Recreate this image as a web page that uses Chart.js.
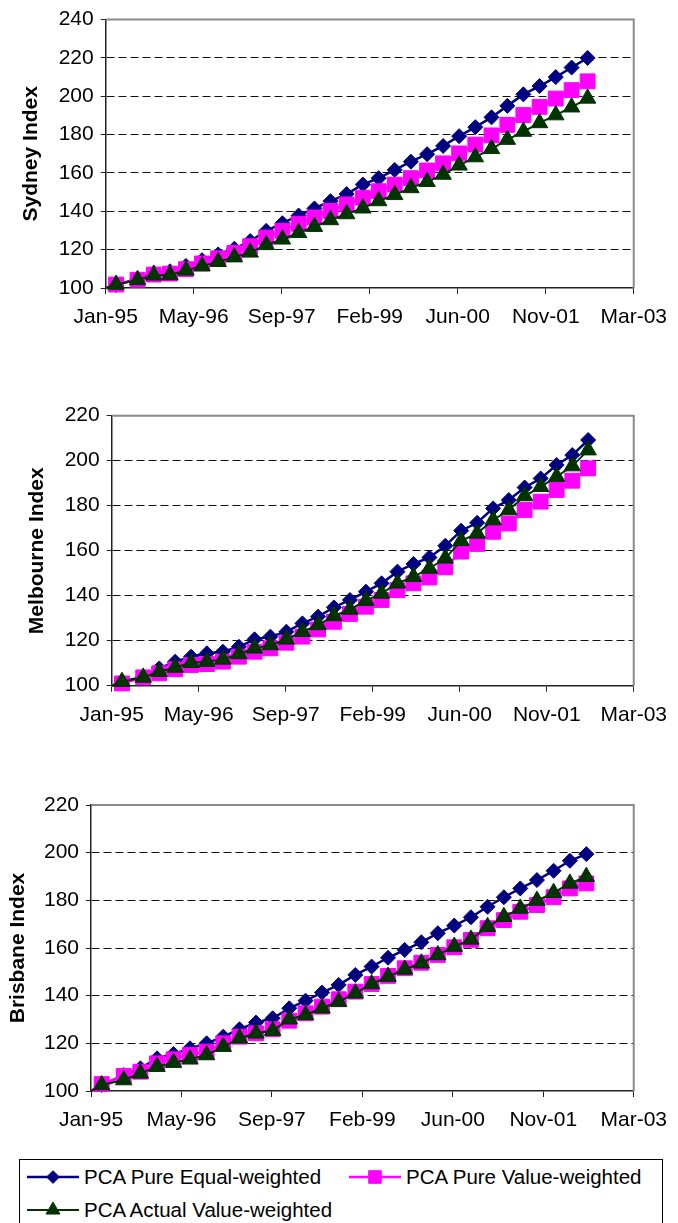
<!DOCTYPE html>
<html>
<head>
<meta charset="utf-8">
<script src="https://cdn.jsdelivr.net/npm/chart.js@4.4.0/dist/chart.umd.min.js"></script>
<style>
  html, body { margin: 0; padding: 0; background: #fff; overflow: hidden; }
  body { width: 678px; height: 1223px; position: relative; font-family: "Liberation Sans", Arial, sans-serif; }
  canvas { position: absolute; left: 0; }
  #legend { position: absolute; left: 19px; top: 1159px; width: 644px; height: 90px; border: 1px solid #000; box-sizing: border-box; }
  .item { position: absolute; font-size: 20.5px; color: #000; white-space: nowrap; line-height: 24px; }
  .item canvas { position: absolute; }
</style>
</head>
<body>
<canvas id="sydney" width="678" height="340"></canvas>
<canvas id="melbourne" width="678" height="345"></canvas>
<canvas id="brisbane" width="678" height="360"></canvas>
<div id="legend"></div>
<script>
// quarterly observations (first one is the Jan-95 base)
const quarterDates = ['1995-01', '1995-03', '1995-07', '1995-10', '1996-01', '1996-04', '1996-07', '1996-10',
    '1997-01', '1997-04', '1997-07', '1997-10', '1998-01', '1998-04', '1998-07', '1998-10',
    '1999-01', '1999-04', '1999-07', '1999-10', '2000-01', '2000-04', '2000-07', '2000-10',
    '2001-01', '2001-04', '2001-07', '2001-10', '2002-01', '2002-04', '2002-07'];

const xTickLabels = ['Jan-95', 'May-96', 'Sep-97', 'Feb-99', 'Jun-00', 'Nov-01', 'Mar-03'];
const seriesNames = ['PCA Pure Equal-weighted', 'PCA Pure Value-weighted', 'PCA Actual Value-weighted'];

const sydneyEqual = [100, 101.5, 105, 108, 108.7, 111.5, 114.5, 117.5, 120.5, 124.5, 129.8, 133.8, 137.8, 141.5, 145.3, 149,
    154, 157.3, 161.6, 165.9, 169.8, 174.1, 179.2, 183.9, 189, 195, 201, 205.3, 210, 215, 220];
const sydneyPureValue = [100, 101.8, 104.3, 107, 107.5, 109.8, 112.8, 115.5, 118.3, 121.8, 126.3, 129.8, 133.5, 136.8, 140.2, 143.6,
    147.1, 150.5, 153.9, 157.3, 161.3, 165, 170.2, 174.8, 179.6, 185.1, 190.2, 194.5, 198.8, 203.2, 207.8];
const sydneyActualValue = [100, 101.8, 104.2, 106.6, 106.8, 109.2, 111.4, 113.7, 116.1, 118.6, 122.5, 125.4, 128.8, 132, 135.5, 138.6,
    141.6, 145.4, 148.6, 152.2, 155.4, 159.2, 164, 168.3, 172.6, 177.4, 181.6, 186.1, 190.2, 194.3, 198.9];

const melbourneEqual = [100, 101.8, 104, 107.7, 110.7, 112.9, 114.4, 115.1, 117.3, 120.6, 121.8, 124, 127.7, 130.7, 134.8, 138.1,
    141.8, 145.5, 150.7, 154.1, 157, 162.2, 168.9, 172.4, 178.8, 182.5, 188.1, 192.1, 198.1, 202.5, 209.2];
const melbournePureValue = [100, 101, 103.7, 105.5, 107.3, 109.2, 109.6, 110.7, 112.9, 115.1, 116.6, 119.1, 121.8, 125, 128.4, 131.9,
    135.1, 138.1, 142.5, 145.5, 148.1, 152.6, 159.6, 163, 168.4, 172.1, 178.1, 181.8, 187, 191.1, 196.6];
const melbourneActualValue = [100, 101.8, 103.7, 106.2, 108.1, 110.2, 110.7, 111.7, 114.1, 116.6, 118.1, 120.6, 124, 127, 131, 133.9,
    137.8, 141, 145.5, 148.4, 152.1, 156.6, 164.4, 167.7, 173.6, 178.1, 184.3, 188.4, 192.9, 197.6, 204.7];

const brisbaneEqual = [100, 102.5, 106.7, 109.5, 113.7, 115.5, 117.9, 120, 122.8, 125.9, 128.7, 130.5, 134.7, 137.9, 141.3, 144.5,
    148.7, 152.2, 155.9, 159.2, 162.4, 166.2, 169.4, 172.9, 177.3, 181.3, 185, 188.5, 192.4, 196.6, 199.4];
const brisbanePureValue = [100, 102.9, 106.3, 108.1, 111.6, 113.3, 115.1, 116.5, 120, 122.8, 124.2, 125.9, 129.5, 132.6, 135.4, 138.5,
    141.7, 144.9, 148.3, 151.5, 153.8, 157.1, 160.3, 163.4, 168.3, 171.7, 175.2, 178, 181.3, 185, 187.1];
const brisbaneActualValue = [100, 102.5, 104.6, 107.4, 110.2, 111.9, 113.3, 115.1, 118.6, 122.1, 124.2, 125.3, 130.1, 131.9, 134.7, 137.5,
    141, 144.9, 148, 151, 153.6, 157.1, 160.6, 163.6, 168.9, 173.1, 176.6, 179.9, 183.2, 187.1, 189.9];

// days since 1 Jan 1995 (the axis runs on a 500-day step like the excel date axis)
const dayOf = s => {
    const [y, m] = s.split('-').map(Number);
    return (Date.UTC(y, m - 1, 1) - Date.UTC(1995, 0, 1)) / 86400000;
};
const days = quarterDates.map(dayOf);

const styles = [
    { color: '#000080', style: 'rectRot', radius: 7.5, line: 2.5, order: 3 },
    { color: '#ff00ff', style: 'rect', radius: 10.5, line: 2.5, order: 2 },
    { color: '#003300', style: 'triangle', radius: 9.5, line: 2, order: 1 }
];

Chart.defaults.font.family = '"Liberation Sans", Arial, sans-serif';

const frame = {
    id: 'frame',
    beforeDatasetsDraw(chart) {
        const { ctx, chartArea: a } = chart;
        ctx.save();
        ctx.strokeStyle = '#8a8a8a';
        ctx.lineWidth = 2;
        ctx.beginPath();
        ctx.moveTo(a.left, a.top);
        ctx.lineTo(a.right, a.top);
        ctx.lineTo(a.right, a.bottom);
        ctx.stroke();
        ctx.restore();
    }
};

function makeChart(id, title, yMax, series, p) {
    const datasets = series.map((vals, k) => ({
        label: seriesNames[k],
        data: vals.map((v, i) => ({ x: days[i], y: v })),
        borderColor: styles[k].color,
        backgroundColor: styles[k].color,
        borderWidth: styles[k].line,
        pointStyle: styles[k].style,
        pointRadius: c => c.dataIndex === 0 ? 0 : styles[k].radius,
        pointBorderWidth: 1,
        pointBackgroundColor: styles[k].color,
        pointBorderColor: styles[k].color,
        tension: 0,
        clip: false,
        order: styles[k].order
    }));

    new Chart(document.getElementById(id), {
        type: 'line',
        data: { datasets },
        plugins: [frame],
        options: {
            responsive: false,
            animation: false,
            events: [],
            layout: { padding: { top: p.top, right: p.right, left: 0, bottom: 0 } },
            plugins: { legend: { display: false }, tooltip: { enabled: false } },
            scales: {
                x: {
                    type: 'linear',
                    min: 0,
                    max: 3000,
                    afterFit: s => { s.height = p.xAxisH; },
                    ticks: {
                        stepSize: 500, autoSkip: false, maxRotation: 0, padding: 11,
                        color: '#000', font: { size: 21 },
                        callback: (v, i) => xTickLabels[i]
                    },
                    grid: { drawOnChartArea: false, drawTicks: true, tickLength: 6, tickColor: '#222' },
                    border: { color: '#222', width: 1.5 }
                },
                y: {
                    min: 100,
                    max: yMax,
                    afterFit: s => { s.width = p.left; },
                    ticks: { stepSize: 20, padding: 7, color: '#000', font: { size: 21 } },
                    grid: {
                        color: c => (c.tick && (c.tick.value === 100 || c.tick.value === yMax)) ? 'rgba(0,0,0,0)' : '#111',
                        tickColor: '#222',
                        tickLength: 5,
                        lineWidth: 1
                    },
                    border: { color: '#222', width: 1.5, dash: [8, 4] },
                    title: {
                        display: true, text: title, color: '#000',
                        font: { size: 21, weight: 'bold' },
                        padding: { top: p.titlePad, bottom: 0 }
                    }
                }
            }
        }
    });
}

document.getElementById('sydney').style.top = '0px';
document.getElementById('melbourne').style.top = '390px';
document.getElementById('brisbane').style.top = '780px';

makeChart('sydney', 'Sydney Index', 240, [sydneyEqual, sydneyPureValue, sydneyActualValue],
    { top: 15.7, right: 40.7, left: 105.7, xAxisH: 52, titlePad: 18.4 });
makeChart('melbourne', 'Melbourne Index', 220, [melbourneEqual, melbournePureValue, melbourneActualValue],
    { top: 25.7, right: 41, left: 111.7, xAxisH: 49.3, titlePad: 24.4 });
makeChart('brisbane', 'Brisbane Index', 220, [brisbaneEqual, brisbanePureValue, brisbaneActualValue],
    { top: 25, right: 33, left: 91, xAxisH: 49, titlePad: 5.4 });

// legend: line + marker sample, then the name
const legendPos = [
    { left: 7, top: 5 },
    { left: 329, top: 5 },
    { left: 7, top: 38 }
];
const legend = document.getElementById('legend');
seriesNames.forEach((name, k) => {
    const item = document.createElement('div');
    item.className = 'item';
    item.style.left = legendPos[k].left + 'px';
    item.style.top = legendPos[k].top + 'px';
    const c = document.createElement('canvas');
    c.width = 54; c.height = 24;
    c.style.left = '0px'; c.style.top = '0px';
    const ctx = c.getContext('2d');
    ctx.strokeStyle = styles[k].color;
    ctx.lineWidth = styles[k].line;
    ctx.beginPath();
    ctx.moveTo(0, 12);
    ctx.lineTo(52, 12);
    ctx.stroke();
    ctx.fillStyle = styles[k].color;
    ctx.lineWidth = 1;
    Chart.helpers.drawPoint(ctx, { pointStyle: styles[k].style, radius: styles[k].radius * 0.85, rotation: 0, borderWidth: 1 }, 26, 12);
    item.appendChild(c);
    const t = document.createElement('span');
    t.textContent = name;
    t.style.marginLeft = '57px';
    item.appendChild(t);
    legend.appendChild(item);
});
</script>
</body>
</html>
